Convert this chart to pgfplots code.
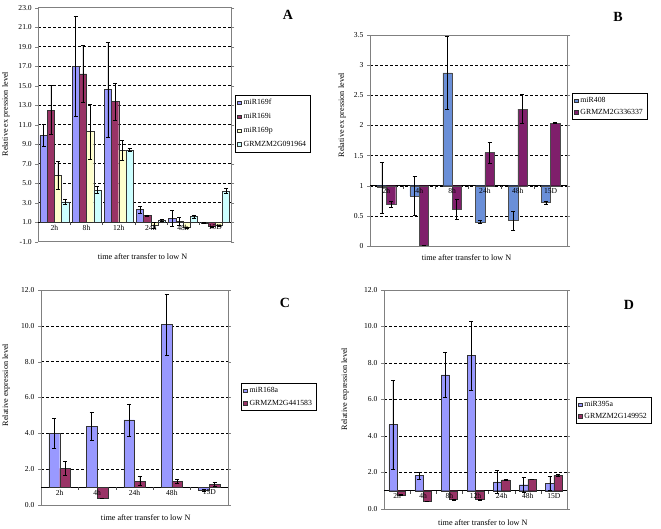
\documentclass[border=0pt]{standalone}
\usepackage{fontspec}
\setmainfont{Liberation Serif}
\usepackage{pgfplots}
\pgfplotsset{compat=1.18}
\usepackage{pgfplotstable}

\definecolor{cA}{HTML}{9999FF}
\definecolor{cB}{HTML}{993366}
\definecolor{cC}{HTML}{FFFFCC}
\definecolor{cD}{HTML}{CCFFFF}
\definecolor{bBlue}{HTML}{6A8FD8}
\definecolor{bPurp}{HTML}{7F1F6B}

\pgfplotstableread{
x f ef i ei p ep g eg
0 9.9 1.1 12.5 2.5 5.8 1.4 3.1 0.3
1 17.0 5.1 16.2 2.9 10.3 2.8 4.3 0.35
2 14.6 4.9 13.4 1.9 8.4 1.0 8.4 0.15
3 2.3 0.35 1.7 0.05 0.65 0.3 1.2 0.1
4 1.4 0.8 1.1 0.4 0.45 0.05 1.6 0.15
5 0.9 0.05 0.55 0.02 0.65 0.02 4.2 0.25
}\dataA

\pgfplotstableread{
x a ea g eg
0 0.97 0.42 0.70 0.05
1 0.83 0.32 0.01 0.0
2 2.87 0.61 0.61 0.17
3 0.40 0.03 1.55 0.17
4 0.42 0.16 2.27 0.24
5 0.72 0.03 2.04 0.01
}\dataB

\pgfplotstableread{
x a ea g eg
0 4.0 0.85 2.05 0.4
1 4.4 0.8 0.4 0.0
2 4.75 0.9 1.33 0.25
3 10.08 1.7 1.32 0.12
4 0.82 0.05 1.15 0.1
}\dataC

\pgfplotstableread{
x a ea g eg
0 4.62 2.42 0.78 0.05
1 1.84 0.2 0.42 0.02
2 7.35 1.25 0.52 0.02
3 8.41 1.9 0.52 0.02
4 1.48 0.62 1.6 0.02
5 1.33 0.4 1.63 0.02
6 1.42 0.38 1.84 0.05
}\dataD

\newcommand{\catlabels}[2]{%
  \foreach \i/\l in {#1} {\node[font=\fontsize{7.6}{9}\selectfont, anchor=north, inner sep=1.5pt, yshift=-1pt] at (axis cs:\i,0) {\l};}%
  \foreach \j in {#2} {\draw[black!70, line width=0.4pt] (axis cs:\j,0) -- ++(0pt,-3pt);}%
}

\pgfplotsset{
 panel/.style={
  scale only axis, anchor=south west, ybar=0pt,
  axis line style={gray}, tick align=outside, major tick length=3pt,
  ytick style={gray}, xtick=\empty,
  ymajorgrids, major grid style={black, densely dashed, line width=0.4pt},
  tick label style={font=\fontsize{7.6}{9}\selectfont},
  label style={font=\fontsize{8.2}{9}\selectfont},
  /pgf/number format/assume math mode=true,
  enlargelimits=false,
  legend image code/.code={\draw[##1, draw=black!80, line width=0.4pt] (0pt,-1.9pt) rectangle (3.8pt,1.9pt);},
  legend style={draw=black, line width=0.6pt, font=\fontsize{7.8}{9}\selectfont, cells={anchor=west}, inner sep=2pt},
  legend cell align=left,
  extra y ticks={0}, extra y tick labels={},
  extra y tick style={grid=major, major grid style={black, solid, line width=0.5pt}, major tick length=0pt},
  xlabel={time after transfer to low N},
 },
 eb/.style={error bars/.cd, y dir=both, y explicit, error bar style={black, line width=0.5pt}, error mark options={rotate=90, mark size=2pt, black, line width=0.5pt}},
}

\begin{document}
\begin{tikzpicture}
\path[use as bounding box] (0pt,0pt) rectangle (661pt,529pt);

% Panel A
\begin{axis}[panel, at={(38.3pt,287.3pt)}, width=193pt, height=234pt,
  xmin=-0.5, xmax=5.5, ymin=-2, ymax=22, bar width=7.2pt,
  ytick={-2,0,...,22},
  yticklabel={\pgfmathparse{\tick+1}\pgfmathprintnumber[fixed,fixed zerofill,precision=1]{\pgfmathresult}},
  ylabel={Relative ex pression level},
  ylabel style={at={(axis description cs:-0.168,0.545)}, anchor=center},
  xlabel style={at={(axis description cs:0.54,-0.062)}, anchor=center},
  legend style={at={(1.02,0.627)}, anchor=north west, row sep=3.2pt},
  after end axis/.code={\catlabels{0/2h,1/8h,2/12h,3/24h,4/48h,5/15D}{0.5,1.5,2.5,3.5,4.5}}]
\addplot[fill=cA, draw=black!80, eb] table[x=x, y expr=\thisrow{f}-1, y error=ef] {\dataA};
\addplot[fill=cB, draw=black!80, eb] table[x=x, y expr=\thisrow{i}-1, y error=ei] {\dataA};
\addplot[fill=cC, draw=black!80, eb] table[x=x, y expr=\thisrow{p}-1, y error=ep] {\dataA};
\addplot[fill=cD, draw=black!80, eb] table[x=x, y expr=\thisrow{g}-1, y error=eg] {\dataA};
\legend{miR169f,miR169i,miR169p,GRMZM2G091964}
\end{axis}

% Panel B
\begin{axis}[panel, at={(370pt,283pt)}, width=197pt, height=211pt,
  xmin=-0.5, xmax=5.5, ymin=-1, ymax=2.5, bar width=9.3pt,
  ytick={-1,-0.5,...,2.5},
  yticklabel={\pgfmathparse{\tick+1}\pgfmathprintnumber[fixed,precision=1]{\pgfmathresult}},
  ylabel={Relative ex pression level},
  ylabel style={at={(axis description cs:-0.142,0.62)}, anchor=center},
  xlabel style={at={(axis description cs:0.49,-0.057)}, anchor=center},
  legend style={at={(1.025,0.725)}, anchor=north west, row sep=1pt},
  after end axis/.code={\catlabels{0/2h,1/4h,2/8h,3/24h,4/48h,5/15D}{0.5,1.5,2.5,3.5,4.5}}]
\addplot[fill=bBlue, draw=black!70, eb] table[x=x, y expr=\thisrow{a}-1, y error=ea] {\dataB};
\addplot[fill=bPurp, draw=black!70, eb] table[x=x, y expr=\thisrow{g}-1, y error=eg] {\dataB};
\legend{miR408,GRMZM2G336337}
\end{axis}

% Panel C
\begin{axis}[panel, at={(41pt,24pt)}, width=187pt, height=215pt,
  xmin=-0.5, xmax=4.5, ymin=-1, ymax=11, bar width=10.7pt,
  ytick={-1,1,...,11},
  yticklabel={\pgfmathparse{\tick+1}\pgfmathprintnumber[fixed,fixed zerofill,precision=1]{\pgfmathresult}},
  ylabel={Relative expression level},
  ylabel style={at={(axis description cs:-0.187,0.558)}, anchor=center},
  xlabel style={at={(axis description cs:0.56,-0.06)}, anchor=center},
  legend style={at={(1.07,0.567)}, anchor=north west, row sep=2pt},
  after end axis/.code={\catlabels{0/2h,1/4h,2/24h,3/48h,4/15D}{0.5,1.5,2.5,3.5}}]
\addplot[fill=cA, draw=black!80, eb] table[x=x, y expr=\thisrow{a}-1, y error=ea] {\dataC};
\addplot[fill=cB, draw=black!80, eb] table[x=x, y expr=\thisrow{g}-1, y error=eg] {\dataC};
\legend{miR168a,GRMZM2G441583}
\end{axis}

% Panel D
\begin{axis}[panel, at={(384pt,20pt)}, width=183pt, height=219pt,
  xmin=-0.5, xmax=6.5, ymin=-1, ymax=11, bar width=8.3pt,
  ytick={-1,1,...,11},
  yticklabel={\pgfmathparse{\tick+1}\pgfmathprintnumber[fixed,fixed zerofill,precision=1]{\pgfmathresult}},
  ylabel={Relative expression level},
  ylabel style={at={(axis description cs:-0.213,0.548)}, anchor=center},
  xlabel style={at={(axis description cs:0.54,-0.064)}, anchor=center},
  legend style={at={(1.049,0.511)}, anchor=north west, row sep=1pt},
  after end axis/.code={\catlabels{0/2h,1/4h,2/8h,3/12h,4/24h,5/48h,6/15D}{0.5,1.5,2.5,3.5,4.5,5.5}}]
\addplot[fill=cA, draw=black!80, eb] table[x=x, y expr=\thisrow{a}-1, y error=ea] {\dataD};
\addplot[fill=cB, draw=black!80, eb] table[x=x, y expr=\thisrow{g}-1, y error=eg] {\dataD};
\legend{miR395a,GRMZM2G149952}
\end{axis}

\node[font=\bfseries\fontsize{14}{16}\selectfont] at (288pt,514pt) {A};
\node[font=\bfseries\fontsize{14}{16}\selectfont] at (618pt,512pt) {B};
\node[font=\bfseries\fontsize{14}{16}\selectfont] at (285pt,226pt) {C};
\node[font=\bfseries\fontsize{14}{16}\selectfont] at (629pt,224pt) {D};
\end{tikzpicture}
\end{document}
